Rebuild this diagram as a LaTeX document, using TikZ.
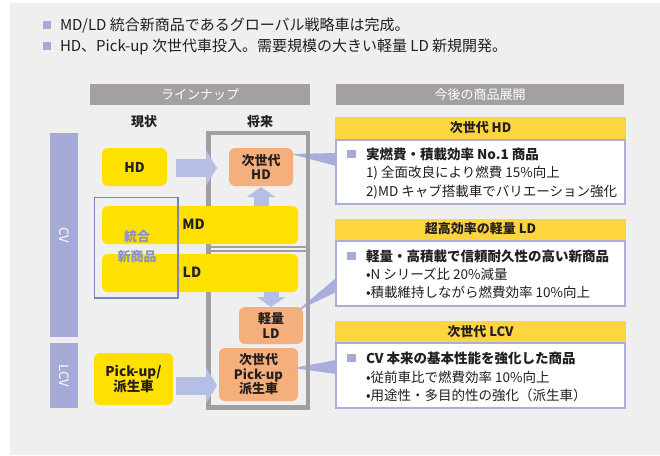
\documentclass[tikz,border=0pt]{standalone}
\usepackage{fontspec}
\setmainfont{Noto Sans CJK JP}
\usetikzlibrary{arrows.meta,calc}
\definecolor{bgc}{HTML}{EFEFEF}
\definecolor{hbar}{HTML}{A39FA3}
\definecolor{lav}{HTML}{A5AAD6}
\definecolor{arrc}{HTML}{B5BFE5}
\definecolor{yel}{HTML}{FFE100}
\definecolor{ora}{HTML}{F5AF7C}
\definecolor{ttlc}{HTML}{FDD53E}
\definecolor{cbd}{HTML}{A9AEDC}
\definecolor{frm}{HTML}{A19EA1}
\definecolor{tog}{HTML}{7A80C2}
\definecolor{togt}{HTML}{8A90C8}
\definecolor{ink}{HTML}{231F20}
\begin{document}
\begin{tikzpicture}[x=1pt,y=-1pt,
  every node/.style={inner sep=0pt, outer sep=0pt, text=ink},
  hdrbar/.style={fill=hbar, text=white, font=\fontsize{13}{15}\selectfont},
  ybox/.style={fill=yel, rounded corners=6pt, align=center, font=\bfseries\fontsize{13.5}{15}\selectfont},
  obox/.style={fill=ora, rounded corners=6pt, align=center, font=\bfseries\fontsize{13}{14.5}\selectfont},
  barlbl/.style={font=\bfseries\fontsize{14}{16}\selectfont},
  vtag/.style={fill=lav, rotate=-90, text=white, font=\fontsize{13}{15}\selectfont},
  blockarrow/.style={draw=arrc, line width=18pt, -{Triangle[width=35pt,length=11pt]}},
  smallarrow/.style={draw=arrc, line width=15pt, -{Triangle[width=28pt,length=10pt]}},
  wedge/.style={fill=cbd},
  ctitle/.style={fill=ttlc, minimum width=291pt, font=\bfseries\fontsize{13}{15}\selectfont},
  cbody/.style={fill=white, draw=cbd, line width=2.4pt, minimum width=288.6pt},
  ctxt/.style={anchor=west, font=\fontsize{13.5}{15}\selectfont, text height=11.8pt, text depth=1.7pt},
  ctxtb/.style={ctxt, font=\bfseries\fontsize{13.5}{15}\selectfont},
  sq/.style={fill=lav, minimum size=8.5pt},
  toptxt/.style={anchor=west, font=\fontsize{15}{17}\selectfont, text height=13.2pt, text depth=1.8pt},
  colhd/.style={font=\bfseries\fontsize{13}{15}\selectfont}
]
\useasboundingbox (0,0) rectangle (660,455);
\fill[white] (0,0) rectangle (660,455);
\fill[bgc] (10,3.3) rectangle (660,455);

% top statements
\node[sq, minimum size=8pt] (s1) at (46.7,24.5) {};
\node[toptxt] (l1) at (60,24.5) {MD/LD 統合新商品であるグローバル戦略車は完成。};
\node[sq, minimum size=8pt] (s2) at (46.7,46) {};
\node[toptxt] (l2) at (60,46) {HD、Pick-up 次世代車投入。需要規模の大きい軽量 LD 新規開発。};

% header bars
\node[hdrbar, minimum width=220pt, minimum height=21pt] (lu) at (200,94.5) {ラインナップ};
\node[hdrbar, minimum width=288pt, minimum height=21pt] (dev) at (480,94.5) {今後の商品展開};
\node[colhd] (now) at (144,122) {現状};
\node[colhd] (fut) at (260,122) {将来};

% side tags
\node[vtag, minimum width=204pt, minimum height=28pt] (cv) at (64,235) {CV};
\node[vtag, minimum width=65pt, minimum height=28pt] (lcv) at (64,375.5) {LCV};

% future boxes (orange)
\node[obox, minimum width=64pt, minimum height=38pt] (nhd) at (261,167) {次世代\\HD};
\node[obox, minimum width=64pt, minimum height=37pt] (lld) at (271,325.5) {軽量\\LD};
\node[obox, minimum width=79pt, minimum height=53pt] (npu) at (258.5,374.5) {次世代\\Pick-up\\派生車};

% cards
\node[ctitle, minimum height=22pt] (t1) at (480.5,127.5) {次世代 HD};
\node[ctitle, minimum height=21pt] (t2) at (480.5,229) {超高効率の軽量 LD};
\node[ctitle, minimum height=21pt] (t3) at (480.5,331.5) {次世代 LCV};

% callout wedges
\fill[wedge] ($(nhd.north east)+(-2,6)$) -- ($(t1.south west)+(1,14.5)$) -- ($(t1.south west)+(1,27.5)$) -- cycle;
\fill[wedge] ($(lld.north east)+(-6,4)$) -- ($(t2.south west)+(1,38.5)$) -- ($(t2.south west)+(1,52.5)$) -- cycle;
\fill[wedge] ($(npu.east)+(-5,-6.5)$) -- ($(t3.south west)+(1,18)$) -- ($(t3.south west)+(1,32)$) -- cycle;

% future frame
\node[draw=frm, line width=4.5pt, minimum width=99.5pt, minimum height=274.5pt] (ff) at (258.25,270.25) {};
\draw[frm, line width=2pt] ($(ff.west)+(0,-23.25)$) -- ($(ff.east)+(0,-23.25)$);
\draw[frm, line width=2pt] ($(ff.west)+(0,-19.25)$) -- ($(ff.east)+(0,-19.25)$);

% card bodies
\node[cbody, minimum height=64.1pt, anchor=north] (b1) at ($(t1.south)+(0,1.2)$) {};
\node[cbody, minimum height=65.1pt, anchor=north] (b2) at ($(t2.south)+(0,1.2)$) {};
\node[cbody, minimum height=64.6pt, anchor=north] (b3) at ($(t3.south)+(0,1.2)$) {};

\node[sq] (q1) at ($(t1.south west)+(16.5,15.5)$) {};
\node[ctxtb] (c1a) at ($(t1.south west)+(31,15.5)$) {実燃費・積載効率 No.1 商品};
\node[ctxt] (c1b) at ($(t1.south west)+(31,34)$) {1) 全面改良により燃費 15\%向上};
\node[ctxt] (c1c) at ($(t1.south west)+(31,52.5)$) {2)MD キャブ搭載車でバリエーション強化};

\node[sq] (q2) at ($(t2.south west)+(16.5,16.5)$) {};
\node[ctxtb] (c2a) at ($(t2.south west)+(31,16.5)$) {軽量・高積載で信頼耐久性の高い新商品};
\node[ctxt] (c2b) at ($(t2.south west)+(31,34.5)$) {•N シリーズ比 20\%減量};
\node[ctxt] (c2c) at ($(t2.south west)+(31,53)$) {•積載維持しながら燃費効率 10\%向上};

\node[sq] (q3) at ($(t3.south west)+(16.5,16)$) {};
\node[ctxtb] (c3a) at ($(t3.south west)+(31,16)$) {CV 本来の基本性能を強化した商品};
\node[ctxt] (c3b) at ($(t3.south west)+(31,35)$) {•従前車比で燃費効率 10\%向上};
\node[ctxt] (c3c) at ($(t3.south west)+(31,53)$) {•用途性・多目的性の強化（派生車）};

% current lineup (yellow)
\node[ybox, minimum width=65pt, minimum height=38pt] (hd) at (134.5,167) {HD};
\node[ybox, minimum width=196pt, minimum height=38pt] (md) at (200,225) {};
\node[ybox, minimum width=196pt, minimum height=38pt] (ld) at (200,273) {};
\node[ybox, minimum width=79pt, minimum height=52pt] (pu) at (133.5,379) {Pick-up/\\派生車};
\node[barlbl] (mdl) at ($(md.center)+(-6.5,-1)$) {MD};
\node[barlbl] (ldl) at ($(ld.center)+(-8,-1)$) {LD};

% integrated new product frame
\node[draw=tog, line width=1.6pt, minimum width=83.4pt, minimum height=100.4pt] (tg) at (136,247.5) {};
\node[font=\bfseries\fontsize{13}{20}\selectfont, text=togt, align=center] (tgl) at (137,247) {統合\\新商品};

% arrows
\draw[blockarrow, shorten <=9pt, shorten >=12pt] ([yshift=-1pt]hd.east) -- ([yshift=-1pt]hd.east -| nhd.west);
\draw[smallarrow, shorten >=1pt] (md.north -| nhd.south) -- (nhd.south);
\draw[smallarrow] (ld.south -| lld.north) -- (lld.north);
\draw[blockarrow, shorten <=3pt, shorten >=2pt] ([yshift=-6.5pt]pu.east) -- ([yshift=-6.5pt]pu.east -| npu.west);
\end{tikzpicture}
\end{document}
